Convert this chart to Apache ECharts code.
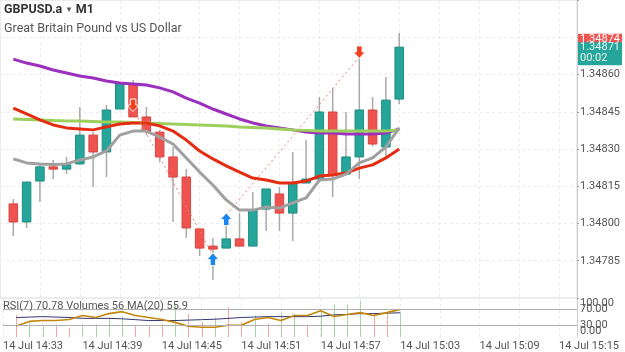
<!DOCTYPE html>
<html>
<head>
<meta charset="UTF-8">
<title>GBPUSD.a M1</title>
<style>
  html, body { margin: 0; padding: 0; background: #fff; }
  #container { width: 625px; height: 352px; }
</style>
</head>
<body>
<div id="container"></div>
<script src="https://cdn.jsdelivr.net/npm/echarts@6/dist/echarts.min.js"></script>
<script>
// one-minute bars, 14 Jul
var times = ['14:34', '14:35', '14:36', '14:37', '14:38', '14:39', '14:40', '14:41', '14:42', '14:43',
             '14:44', '14:45', '14:46', '14:47', '14:48', '14:49', '14:50', '14:51', '14:52', '14:53',
             '14:54', '14:55', '14:56', '14:57', '14:58', '14:59', '15:00', '15:01', '15:02', '15:03'];
var opens  = [1.348079, 1.348006, 1.348171, 1.348228, 1.348219, 1.348240, 1.348356, 1.348288, 1.348461, 1.348562,
              1.348429, 1.348368, 1.348268, 1.348187, 1.347978, 1.347909, 1.347901, 1.347938, 1.347909, 1.348058,
              1.348119, 1.348042, 1.348163, 1.348179, 1.348449, 1.348199, 1.348268, 1.348457, 1.348308, 1.348501];
var closes = [1.348006, 1.348167, 1.348228, 1.348219, 1.348236, 1.348356, 1.348288, 1.348457, 1.348566, 1.348429,
              1.348372, 1.348268, 1.348187, 1.347982, 1.347901, 1.347897, 1.347938, 1.347909, 1.348054, 1.348139,
              1.348042, 1.348163, 1.348179, 1.348449, 1.348195, 1.348268, 1.348457, 1.348320, 1.348497, 1.348710];
var lows   = [1.347950, 1.347982, 1.348087, 1.348179, 1.348199, 1.348236, 1.348147, 1.348187, 1.348461, 1.348429,
              1.348356, 1.348248, 1.348006, 1.347942, 1.347869, 1.347772, 1.347901, 1.347909, 1.347909, 1.347970,
              1.347970, 1.347930, 1.348163, 1.348167, 1.348107, 1.348199, 1.348179, 1.348310, 1.348264, 1.348481];
var highs  = [1.348099, 1.348167, 1.348244, 1.348256, 1.348268, 1.348469, 1.348368, 1.348477, 1.348570, 1.348578,
              1.348469, 1.348377, 1.348308, 1.348219, 1.347978, 1.347942, 1.348042, 1.348042, 1.348127, 1.348139,
              1.348147, 1.348288, 1.348336, 1.348509, 1.348546, 1.348449, 1.348687, 1.348509, 1.348590, 1.348767];

// moving averages drawn on the price pane
var maPurple = [1.348662, 1.348646, 1.348634, 1.348618, 1.348606, 1.348594, 1.348586, 1.348574, 1.348566, 1.348562,
                1.348558, 1.348546, 1.348530, 1.348505, 1.348485, 1.348461, 1.348441, 1.348421, 1.348405, 1.348393,
                1.348385, 1.348377, 1.348368, 1.348364, 1.348364, 1.348360, 1.348360, 1.348360, 1.348364, 1.348381];
var maGreen  = [1.348421, 1.348419, 1.348417, 1.348415, 1.348413, 1.348413, 1.348411, 1.348409, 1.348409, 1.348407,
                1.348405, 1.348403, 1.348401, 1.348399, 1.348397, 1.348395, 1.348393, 1.348389, 1.348387, 1.348385,
                1.348381, 1.348377, 1.348375, 1.348372, 1.348372, 1.348372, 1.348372, 1.348372, 1.348372, 1.348377];
var maRed    = [1.348465, 1.348441, 1.348417, 1.348397, 1.348385, 1.348381, 1.348377, 1.348389, 1.348401, 1.348405,
                1.348405, 1.348393, 1.348372, 1.348336, 1.348292, 1.348260, 1.348232, 1.348207, 1.348183, 1.348175,
                1.348163, 1.348163, 1.348171, 1.348191, 1.348195, 1.348203, 1.348223, 1.348236, 1.348264, 1.348300];
var maGray   = [1.348260, 1.348244, 1.348240, 1.348238, 1.348240, 1.348256, 1.348268, 1.348292, 1.348356, 1.348372,
                1.348372, 1.348348, 1.348320, 1.348264, 1.348207, 1.348155, 1.348095, 1.348054, 1.348054, 1.348066,
                1.348062, 1.348083, 1.348103, 1.348175, 1.348179, 1.348199, 1.348244, 1.348264, 1.348308, 1.348385];

// trade signals and the dotted lines joining them
var sellSignals = [['14:43', 1.348475], ['15:00', 1.348689]];
var buySignals  = [['14:49', 1.347857], ['14:50', 1.348018]];
var trades = [
  [['14:43', 1.348461], ['14:49', 1.347873]],
  [['14:50', 1.348034], ['15:00', 1.348670]]
];
var askPrice = 1.34874;
var bidPrice = 1.34871;
var countdown = '00:02';

// lower pane: volumes, their MA(20) and RSI(7)
var volumes = [51, 34, 25, 29, 20, 27, 29, 45, 47, 27, 25, 27, 74, 54, 34, 45, 69, 34, 51, 31,
               56, 54, 27, 58, 76, 76, 83, 54, 54, 56];
var volumeUp = [0, 1, 1, 0, 0, 1, 1, 1, 1, 0, 0, 0, 1, 0, 0, 1, 0, 0, 1, 0,
                1, 1, 0, 1, 1, 1, 1, 0, 0, 1];
var volumeMA = [45, 46, 47, 46, 45, 43, 43, 43, 42, 40, 38, 38, 38, 39, 40, 41, 43, 45, 46, 47,
                47, 47, 47, 48, 51, 52, 54, 54, 55, 55.9];
var rsi = [28, 40, 42.5, 42.5, 45, 55, 50, 60, 65, 55, 50, 45, 37.5, 27.5, 25, 25, 30, 30, 45, 50,
           42.5, 55, 55, 67.5, 52.5, 57.5, 62.5, 55, 62.5, 70.78];
var rsiLevels = [30, 70];

var priceLabels = ['1.34785', '1.34800', '1.34815', '1.34830', '1.34845', '1.34860'];
var rsiLabels = ['0', '30', '70', '100'];
var datePrefix = '14 Jul ';

var xMin = 33, xMax = 76.36, xStep = 3, labelStep = 6;

function toMin(t) {
    var p = t.split(':');
    return (parseInt(p[0], 10) - 14) * 60 + parseInt(p[1], 10);
}
function pad(n) { return n < 10 ? '0' + n : '' + n; }

var candleData = [], volData = [];
for (var i = 0; i < times.length; i++) {
    candleData.push([toMin(times[i]), opens[i], closes[i], lows[i], highs[i]]);
    volData.push([toMin(times[i]), volumes[i], volumeUp[i]]);
}
function pairs(arr) {
    return arr.map(function (v, i) { return [toMin(times[i]), v]; });
}
function sig(list) {
    return list.map(function (s) { return [toMin(s[0]), s[1]]; });
}

var chart = echarts.init(document.getElementById('container'));
var font = 'Roboto, "Liberation Sans", sans-serif';

function maSeries(name, data, color) {
    return {
        name: name, type: 'line', xAxisIndex: 0, yAxisIndex: 0,
        data: pairs(data), symbol: 'none', smooth: false, z: 4,
        lineStyle: { color: color, width: 3 }, silent: true
    };
}

// arrow outline around the signal point, dir = 1 points down, -1 points up
function arrowSeries(name, data, dir, color) {
    return {
        name: name, type: 'custom', xAxisIndex: 0, yAxisIndex: 0, z: 6,
        data: sig(data), encode: { x: 0, y: 1 },
        renderItem: function (params, api) {
            var p = api.coord([api.value(0), api.value(1)]);
            var s = [[-2.8, -6.5], [2.8, -6.5], [2.8, -0.5], [6, -0.5], [0, 6], [-6, -0.5], [-2.8, -0.5]];
            var pts = s.map(function (q) { return [p[0] + q[0], p[1] + q[1] * dir]; });
            return { type: 'polygon', shape: { points: pts },
                     style: { fill: color, stroke: '#fff', lineWidth: 1 } };
        }
    };
}

var series = [
    {
        name: 'candles', type: 'custom', xAxisIndex: 0, yAxisIndex: 0, z: 2,
        data: candleData, encode: { x: 0, y: [1, 2, 3, 4] },
        renderItem: function (params, api) {
            var x = api.value(0), o = api.value(1), c = api.value(2), l = api.value(3), h = api.value(4);
            var pO = api.coord([x, o]), pC = api.coord([x, c]);
            var pL = api.coord([x, l]), pH = api.coord([x, h]);
            var w = api.size([1, 0])[0] * 0.64;
            var up = c >= o;
            var top = Math.min(pO[1], pC[1]);
            var bh = Math.max(Math.abs(pO[1] - pC[1]), 1.5);
            return {
                type: 'group',
                children: [
                    { type: 'line', shape: { x1: pH[0], y1: pH[1], x2: pL[0], y2: pL[1] },
                      style: { stroke: '#a9a9a9', lineWidth: 1.5 } },
                    { type: 'rect', shape: { x: pO[0] - w / 2, y: top, width: w, height: bh },
                      style: { fill: up ? '#26a69a' : '#ef5350', stroke: up ? '#1f8c80' : '#d9443f', lineWidth: 1 } }
                ]
            };
        },
        markLine: {
            silent: true, symbol: 'none', label: { show: false },
            lineStyle: { type: [2, 2], width: 1 },
            data: [
                { yAxis: askPrice, lineStyle: { color: '#f08a84' } },
                { yAxis: bidPrice, lineStyle: { color: '#86cfc8' } }
            ]
        }
    },
    maSeries('MA purple', maPurple, '#9b2fbe'),
    maSeries('MA green', maGreen, '#9ccf5c'),
    maSeries('MA red', maRed, '#e52c10'),
    maSeries('MA gray', maGray, '#a0a0a0')
];

trades.forEach(function (t, k) {
    series.push({
        name: 'trade' + k, type: 'line', xAxisIndex: 0, yAxisIndex: 0, z: 5,
        data: sig(t), symbol: 'none', silent: true,
        lineStyle: { color: '#f07c74', width: 1, type: [2, 3] }
    });
});

series.push(arrowSeries('sell', sellSignals, 1, '#f2401e'));
series.push(arrowSeries('buy', buySignals, -1, '#1a86f2'));

series.push({
    name: 'volumes', type: 'custom', xAxisIndex: 1, yAxisIndex: 2, z: 2,
    data: volData, encode: { x: 0, y: 1 },
    renderItem: function (params, api) {
        var x = api.value(0);
        var p0 = api.coord([x, 0]), p1 = api.coord([x, api.value(1)]);
        return { type: 'line', shape: { x1: Math.round(p0[0]) + 0.5, y1: p0[1], x2: Math.round(p1[0]) + 0.5, y2: p1[1] },
                 style: { stroke: api.value(2) ? '#a8d5a8' : '#f5a5a5', lineWidth: 1 } };
    }
});
series.push({
    name: 'MA(20)', type: 'line', xAxisIndex: 1, yAxisIndex: 2, z: 3,
    data: pairs(volumeMA), symbol: 'none', silent: true,
    lineStyle: { color: '#34346e', width: 1 }
});
series.push({
    name: 'RSI(7)', type: 'line', xAxisIndex: 1, yAxisIndex: 1, z: 4,
    data: pairs(rsi), symbol: 'none', silent: true,
    lineStyle: { color: '#c4860e', width: 1.6 },
    markLine: {
        silent: true, symbol: 'none', label: { show: false },
        lineStyle: { color: '#b0b0b0', type: 'solid', width: 1.2 },
        data: rsiLevels.map(function (v) { return { yAxis: v }; })
    }
});

var last = times.length - 1;
var paneText = 'RSI(7) ' + rsi[last].toFixed(2) + ' Volumes ' + volumes[last] +
               ' MA(20) ' + volumeMA[last].toFixed(1);

var option = {
    animation: false,
    textStyle: { fontFamily: font },
    title: [
        {
            text: '{a|GBPUSD.a} {b|▾} {a|M1}',
            subtext: 'Great Britain Pound vs US Dollar',
            left: 4, top: 1, padding: 0, itemGap: 3,
            textStyle: { rich: { a: { fontSize: 12.5, color: '#333', fontFamily: font },
                                 b: { fontSize: 9, color: '#555', fontFamily: 'DejaVu Sans' } } },
            subtextStyle: { fontSize: 12.5, color: '#555', fontFamily: font }
        },
        {
            text: paneText, left: 3, top: 301, padding: 0,
            textStyle: { fontSize: 11, color: '#555', fontWeight: 'normal', fontFamily: font }
        }
    ],
    grid: [
        { left: -10.55, right: 48, top: 0, height: 298, show: true, borderColor: '#d9d9d9', borderWidth: 1 },
        { left: -10.55, right: 48, top: 298, height: 40 }
    ],
    xAxis: [
        {
            type: 'value', gridIndex: 0, min: xMin, max: xMax, interval: xStep,
            axisLabel: { show: false }, axisTick: { show: false }, axisLine: { show: false },
            splitLine: { show: true, lineStyle: { color: '#ececec', type: [3, 3] } }
        },
        {
            type: 'value', gridIndex: 1, min: xMin, max: xMax, interval: xStep,
            axisTick: { show: false }, axisLine: { show: false },
            splitLine: { show: true, lineStyle: { color: '#ececec', type: [3, 3] } },
            axisLabel: {
                show: true, align: 'left', margin: 4, fontSize: 11, color: '#555',
                formatter: function (v) {
                    if (Math.abs(v - Math.round(v)) > 1e-6) return '';
                    var m = Math.round(v);
                    if ((m - xMin) % labelStep !== 0) return '';
                    return datePrefix + (14 + Math.floor(m / 60)) + ':' + pad(m % 60);
                }
            }
        }
    ],
    yAxis: [
        {
            type: 'value', gridIndex: 0, position: 'right', min: 1.34770, max: 1.34890, interval: 0.00015,
            axisLine: { show: true, lineStyle: { color: '#cfcfcf' } },
            axisTick: { show: true, length: 2, lineStyle: { color: '#999' } },
            splitLine: { show: true, lineStyle: { color: '#ececec', type: [3, 3] } },
            axisLabel: {
                margin: 3, fontSize: 11, color: '#555',
                formatter: function (v) {
                    var s = v.toFixed(5);
                    return priceLabels.indexOf(s) >= 0 ? s : '';
                }
            }
        },
        {
            type: 'value', gridIndex: 1, position: 'right', min: 0, max: 100, interval: 10,
            axisLine: { show: true, lineStyle: { color: '#cfcfcf' } },
            axisTick: { show: false }, splitLine: { show: false },
            axisLabel: {
                margin: 3, fontSize: 11, color: '#555', hideOverlap: false,
                verticalAlignMinLabel: 'bottom', verticalAlignMaxLabel: 'top',
                formatter: function (v) {
                    var s = String(Math.round(v));
                    return rsiLabels.indexOf(s) >= 0 ? v.toFixed(2) : '';
                }
            }
        },
        { type: 'value', gridIndex: 1, min: 0, max: 90, show: false }
    ],
    series: series
};
chart.setOption(option);

// price boxes at the right edge, placed with the axis scales
var xr = chart.convertToPixel({ xAxisIndex: 0 }, xMax);
var yAsk = chart.convertToPixel({ yAxisIndex: 0 }, askPrice);
var yBid = chart.convertToPixel({ yAxisIndex: 0 }, bidPrice);
chart.setOption({
    graphic: [
        { type: 'rect', z: 100, shape: { x: xr + 1, y: yAsk - 6, width: 44, height: 12 }, style: { fill: '#ef5350' } },
        { type: 'text', z: 101, x: xr + 3, y: yAsk, style: { text: askPrice.toFixed(5), fill: '#fff', font: '11px ' + font, verticalAlign: 'middle' } },
        { type: 'rect', z: 102, shape: { x: xr + 1, y: yBid - 5, width: 44, height: 23 }, style: { fill: '#26a69a' } },
        { type: 'text', z: 103, x: xr + 3, y: yBid, style: { text: bidPrice.toFixed(5), fill: '#e8f6f4', font: '11px ' + font, verticalAlign: 'middle' } },
        { type: 'text', z: 103, x: xr + 3, y: yBid + 11.5, style: { text: countdown, fill: '#e8f6f4', font: '11px ' + font, verticalAlign: 'middle' } }
    ]
});
</script>
</body>
</html>
